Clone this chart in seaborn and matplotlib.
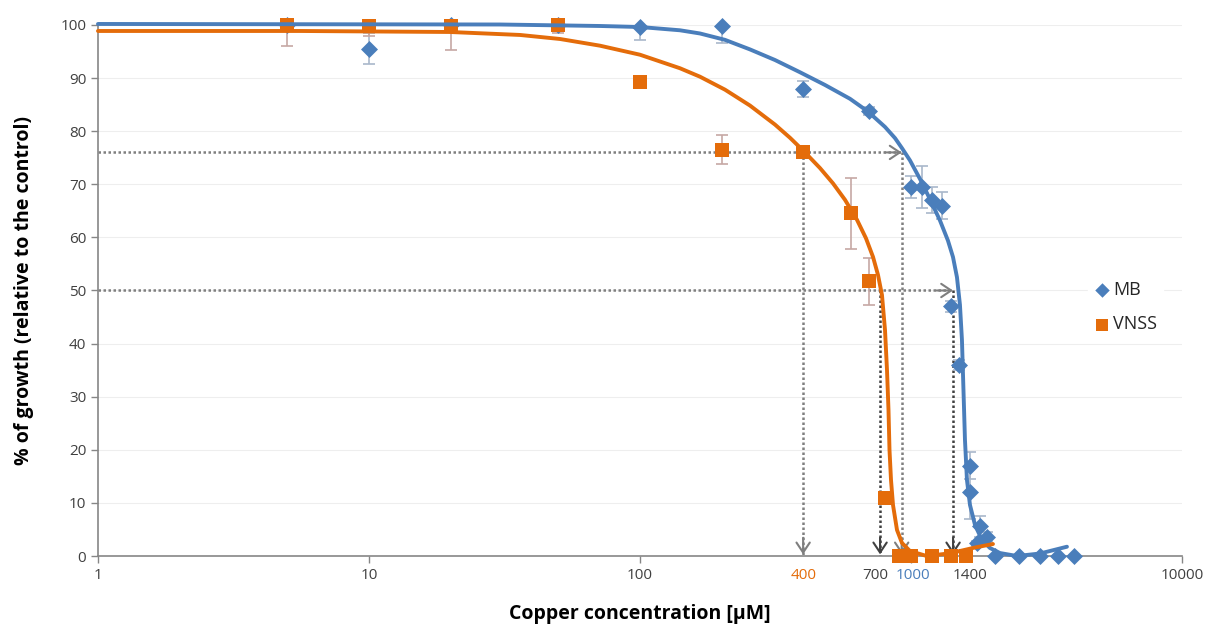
import matplotlib
matplotlib.use("Agg")
import matplotlib.pyplot as plt
from matplotlib.ticker import FixedLocator, NullLocator
import pandas as pd
import seaborn as sns

# measured points (uM, % growth, error)
mb_conc = [5, 10, 20, 50, 100, 200, 400, 700, 1000, 1100, 1200, 1300, 1400, 1500,
           1650, 1650, 1750, 1800, 1900, 2050, 2500, 3000, 3500, 4000]
mb_growth = [100, 95.5, 100, 100, 99.7, 99.8, 88, 83.8, 69.5, 69.5, 67, 66, 47, 36,
             17, 12, 2.4, 5.6, 3.6, 0, 0, 0, 0, 0]
mb_err = [0.5, 2.9, 0.5, 0.5, 2.5, 3.2, 1.5, 0.8, 2, 4, 2.5, 2.5, 1, 1,
          2.5, 5, 0.5, 2, 1, 0, 0, 0, 0, 0]

vnss_conc = [5, 10, 20, 50, 100, 200, 400, 600, 700, 800, 900, 1000, 1200, 1400, 1600]
vnss_growth = [100, 99.8, 99.8, 100, 89.2, 76.5, 76, 64.5, 51.7, 11, 0, 0, 0, 0, 0]
vnss_err = [4, 1.8, 4.5, 1.5, 0, 2.7, 0, 6.6, 4.4, 1, 0, 0, 0, 0, 0]

# fitted trend lines
mb_fit_conc = [1, 30.4, 71.2, 100, 140.5, 166.5, 205.9, 254.6, 315, 389.4, 481.7, 595.6,
               693.8, 802, 873, 926.5, 991.5, 1079.5, 1175, 1279, 1369, 1429, 1478, 1516,
               1542, 1562, 1582, 1609, 1651, 1723, 1828, 1956, 2130, 2461, 2992, 3763]
mb_fit_growth = [100.19, 100.09, 99.81, 99.62, 99.0, 98.4, 97.2, 95.4, 93.4, 91.1,
                 88.7, 86.1, 83.7, 80.8, 78.7, 76.8, 74.5, 71.0, 67.2, 63.2, 59.4,
                 56.3, 52.5, 47.3, 40.68, 31.26, 21.85, 14.31, 9.6, 5.84, 3.01, 1.51,
                 0.56, 0, 0.47, 1.75]
vnss_fit_conc = [1, 5.57, 19.9, 36.1, 50.7, 71.2, 100, 140.5, 166.5, 205.9, 254.6, 315,
                 357.7, 403, 461.5, 515.4, 570.8, 632, 682.3, 724.2, 755.6, 781.6, 802,
                 815.6, 826.1, 833.2, 843.9, 858.4, 888, 926.5, 991.5, 1142.7, 1393, 1723, 2007]
vnss_fit_growth = [98.87, 98.87, 98.68, 98.12, 97.36, 96.1, 94.4, 91.85, 90.26, 87.82,
                   84.83, 81.24, 78.76, 76.19, 73.06, 70.18, 67.08, 63.32, 59.83, 56.33,
                   52.93, 49.15, 42.56, 35.03, 27.5, 19.96, 14.31, 9.6, 4.9, 2.45, 0.94,
                   0, 0.51, 1.6, 2.26]

# guide lines: level and where they drop to the axis
level_76 = 76
drops_76 = [400, 924]
level_50 = 50
drops_50 = [769, 1430]

mark_labels = ["400", "700", "1000", "1400"]
mark_x = [400, 736, 1019, 1651]

xtick_vals = [1, 10, 100, 1000, 10000]
xtick_labels = ["1", "10", "100", "", "10000"]
ytick_vals = list(range(0, 101, 10))

BLUE = "#4a7ebb"
ORANGE = "#e46c0a"
GUIDE = "#7f7f7f"
DARK = "#404040"
TXT = "#404040"

sns.set_theme(style="white")
plt.rcParams["font.family"] = ["Open Sans", "DejaVu Sans"]

fig = plt.figure(figsize=(12.05, 6.26), dpi=100)
ax = fig.add_axes([0.0813, 0.1118, 0.8996, 0.8483])

mb_df = pd.DataFrame({"conc": mb_conc, "growth": mb_growth})
vnss_df = pd.DataFrame({"conc": vnss_conc, "growth": vnss_growth})

for y in ytick_vals[1:]:
    ax.axhline(y, color="#eeeeee", lw=0.8, zorder=0)

# dotted guides
dot = (0, (1, 1))
ax.plot([1, drops_76[-1]], [level_76, level_76], color=GUIDE, lw=1.8, ls=dot, zorder=1)
ax.plot([1, drops_50[-1]], [level_50, level_50], color=GUIDE, lw=1.8, ls=dot, zorder=1)
for xd in drops_76:
    ax.plot([xd, xd], [level_76, 0], color=GUIDE, lw=1.8, ls=dot, zorder=1)
for xd in drops_50:
    ax.plot([xd, xd], [level_50, 0], color=DARK, lw=1.8, ls=dot, zorder=1)

arrow_kw = dict(arrowstyle="->,head_length=0.6,head_width=0.4", lw=1.5, shrinkA=0, shrinkB=0)
ax.annotate("", xy=(drops_76[-1], level_76), xytext=(-12, 0), textcoords="offset points",
            arrowprops=dict(color=GUIDE, **arrow_kw), zorder=1)
ax.annotate("", xy=(drops_50[-1], level_50), xytext=(-12, 0), textcoords="offset points",
            arrowprops=dict(color=GUIDE, **arrow_kw), zorder=1)
for xd in drops_76:
    ax.annotate("", xy=(xd, 0.3), xytext=(0, 12), textcoords="offset points",
                arrowprops=dict(color=GUIDE, **arrow_kw), zorder=1)
for xd in drops_50:
    ax.annotate("", xy=(xd, 0.3), xytext=(0, 12), textcoords="offset points",
                arrowprops=dict(color=DARK, **arrow_kw), zorder=1)

# error bars (clipped to the plot area like the original)
ax.errorbar(mb_conc, mb_growth, yerr=mb_err, fmt="none", ecolor="#a9b7cb",
            elinewidth=1.2, capsize=4, capthick=1.2, zorder=2)
ax.errorbar(vnss_conc, vnss_growth, yerr=vnss_err, fmt="none", ecolor="#c6a8a4",
            elinewidth=1.2, capsize=4, capthick=1.2, zorder=2)

sns.scatterplot(data=mb_df, x="conc", y="growth", color=BLUE, marker="D", s=75,
                linewidth=0, ax=ax, zorder=3, clip_on=False, label="MB")
sns.scatterplot(data=vnss_df, x="conc", y="growth", color=ORANGE, marker="s", s=105,
                linewidth=0, ax=ax, zorder=3, clip_on=False, label="VNSS")

sns.lineplot(x=mb_fit_conc, y=mb_fit_growth, color=BLUE, lw=2.8, ax=ax, zorder=4,
             sort=False, estimator=None, clip_on=False)
sns.lineplot(x=vnss_fit_conc, y=vnss_fit_growth, color=ORANGE, lw=2.8, ax=ax, zorder=4,
             sort=False, estimator=None, clip_on=False)

ax.set_xscale("log")
ax.set_xlim(1, 10000)
ax.set_ylim(0, 100)
ax.xaxis.set_major_locator(FixedLocator(xtick_vals))
ax.xaxis.set_minor_locator(NullLocator())
ax.set_xticklabels(xtick_labels)
ax.set_yticks(ytick_vals)
ax.tick_params(axis="both", labelsize=11, colors="#868686", labelcolor=TXT,
               length=5, width=1, direction="out", bottom=True, left=True)
for side in ["top", "right"]:
    ax.spines[side].set_visible(False)
for side in ["left", "bottom"]:
    ax.spines[side].set_color("#868686")
    ax.spines[side].set_linewidth(1.2)

mark_colors = [ORANGE, DARK, BLUE, DARK]
for lab, xm, c in zip(mark_labels, mark_x, mark_colors):
    ax.text(xm, -2.3, lab, color=c, fontsize=11, ha="center", va="top")

ax.set_xlabel("Copper concentration [µM]", fontsize=14, fontweight="bold", color="black",
              labelpad=15)
ax.set_ylabel("% of growth (relative to the control)", fontsize=14, fontweight="bold",
              color="black", labelpad=19)

handles, labels = ax.get_legend_handles_labels()
ax.legend(handles, labels, loc="upper left", bbox_to_anchor=(0.905, 0.545), frameon=True,
          facecolor="white", edgecolor="white", framealpha=1, fontsize=13,
          handletextpad=0.1, labelspacing=0.9, borderpad=0.3, handlelength=1.0,
          markerscale=0.85)

fig.savefig("out.png", dpi=100)
